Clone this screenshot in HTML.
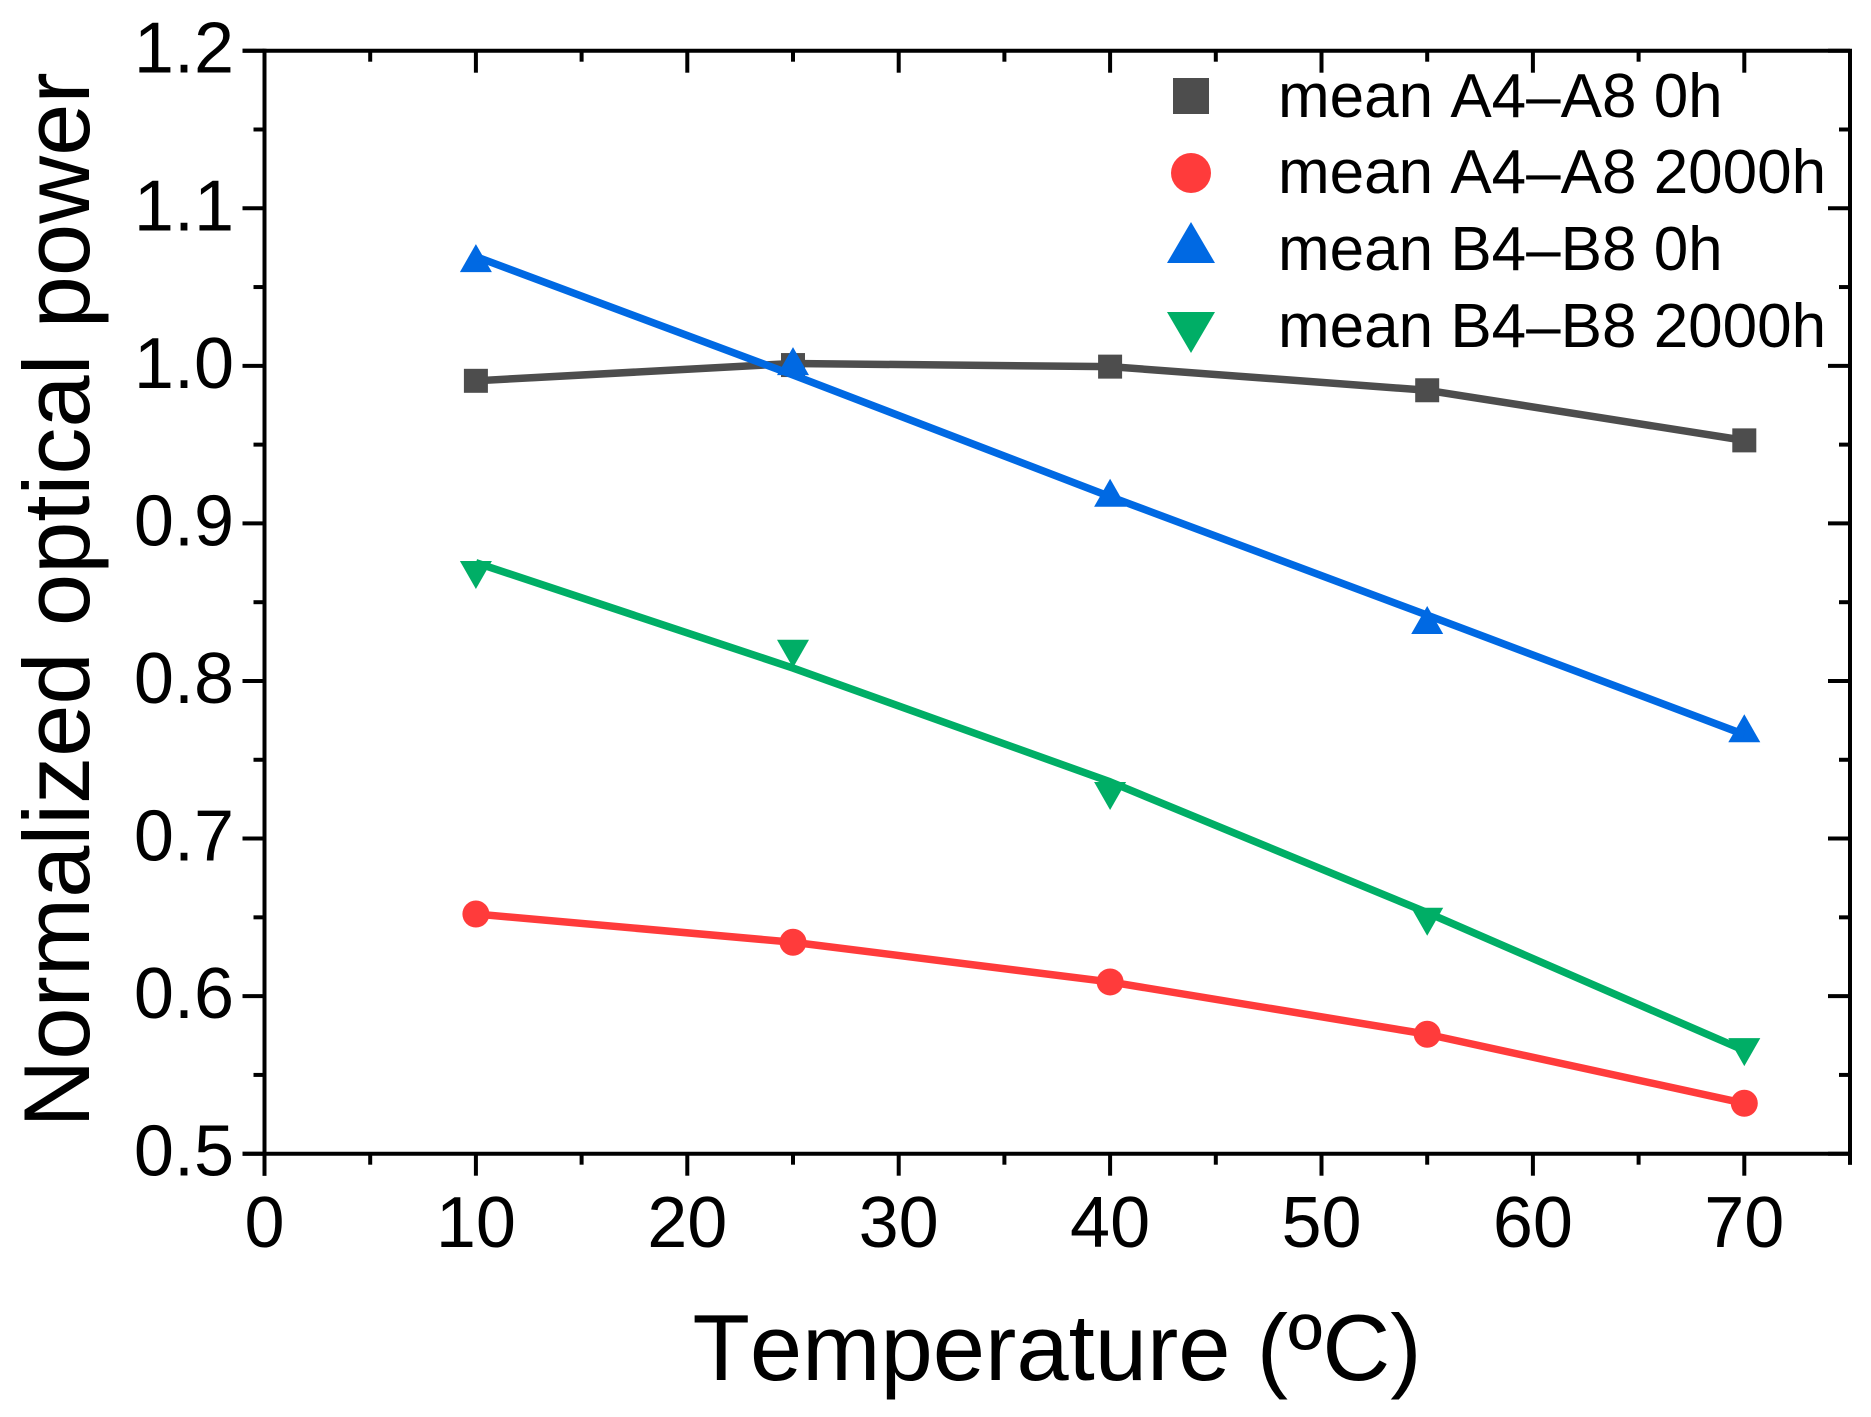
<!DOCTYPE html>
<html lang="en">
<head>
<meta charset="utf-8">
<title>Normalized optical power vs temperature</title>
<style>
  html, body { margin: 0; padding: 0; background: #fff; }
  svg { display: block; font-family: "Liberation Sans", Arial, sans-serif; font-kerning: none; }
</style>
</head>
<body>
<svg id="chart" xmlns="http://www.w3.org/2000/svg" width="1871" height="1417" viewBox="0 0 1871 1417">
  <rect x="0" y="0" width="1871" height="1417" fill="#ffffff"/>
  <g id="axes"></g>
  <g id="series"></g>
  <text x="1057" y="1380" font-size="94" text-anchor="middle" fill="#000">Temperature (ºC)</text>
  <text transform="translate(89 600) rotate(-90)" font-size="94" text-anchor="middle" fill="#000">Normalized optical power</text>
  <g font-size="62" fill="#000">
    <g>
      <rect x="1173" y="78" width="36" height="36" fill="#4d4d4d"/>
      <text x="1278" y="117">mean A4–A8 0h</text>
    </g>
    <g>
      <circle cx="1191" cy="173" r="20" fill="#ff3b3b"/>
      <text x="1278" y="193">mean A4–A8 2000h</text>
    </g>
    <g>
      <polygon points="1191,222 1215,263 1167,263" fill="#0069e3"/>
      <text x="1278" y="270">mean B4–B8 0h</text>
    </g>
    <g>
      <polygon points="1167,312 1215,312 1191,353" fill="#00ae66"/>
      <text x="1278" y="347">mean B4–B8 2000h</text>
    </g>
  </g>
</svg>
<script>
const temperatures = [10, 25, 40, 55, 70];
const xTickLabels = ["0", "10", "20", "30", "40", "50", "60", "70"];
const yTickLabels = ["0.5", "0.6", "0.7", "0.8", "0.9", "1.0", "1.1", "1.2"];
const a0hLine = [0.9905, 1.0015, 0.9995, 0.9845, 0.9527];
const a0hPoints = [0.9905, 1.0005, 0.9995, 0.9845, 0.9527];
const a2000hLine = [0.6521, 0.6342, 0.609, 0.5758, 0.532];
const a2000hPoints = [0.6521, 0.6342, 0.609, 0.5758, 0.532];
const b0hLine = [1.0693, 0.9942, 0.917, 0.8418, 0.766];
const b0hPoints = [1.0684, 1.003, 0.9195, 0.8387, 0.77];
const b2000hLine = [0.8751, 0.8082, 0.736, 0.653, 0.5655];
const b2000hPoints = [0.8673, 0.8173, 0.727, 0.6472, 0.5645];

const NS = "http://www.w3.org/2000/svg";
const xMin = 0, xMax = 75, yMin = 0.5, yMax = 1.2;
const plot = { left: 264.5, right: 1850, top: 50.7, bottom: 1153.7 };
const xPos = v => plot.left + (v - xMin) / (xMax - xMin) * (plot.right - plot.left);
const yPos = v => plot.bottom - (v - yMin) / (yMax - yMin) * (plot.bottom - plot.top);

function make(tag, attrs, parent) {
  const el = document.createElementNS(NS, tag);
  for (const k in attrs) el.setAttribute(k, attrs[k]);
  parent.appendChild(el);
  return el;
}

const axes = document.getElementById("axes");
const seriesGroup = document.getElementById("series");
const axisStyle = { stroke: "#000", "stroke-width": 4, "stroke-linecap": "butt" };

function axisLine(name, x1, y1, x2, y2) {
  const el = make("line", Object.assign({ x1, y1, x2, y2 }, axisStyle), axes);
  
  
}
axisLine("axis-left", plot.left, plot.top - 2, plot.left, plot.bottom + 22);
axisLine("axis-bottom", plot.left - 22, plot.bottom, plot.right + 2, plot.bottom);
axisLine("axis-top", plot.left - 22, plot.top, plot.right + 2, plot.top);
axisLine("axis-right", plot.right, plot.top, plot.right, plot.bottom + 11);

function tickLine(name, x1, y1, x2, y2) {
  const el = make("line", Object.assign({ x1, y1, x2, y2 }, axisStyle), axes);
  
  
}

xTickLabels.forEach(label => {
  const v = Number(label);
  const x = xPos(v);
  tickLine("x-tick-major", x, plot.bottom, x, plot.bottom + 22);
  tickLine("x-tick-major-top", x, plot.top, x, plot.top + 22);
  tickLine("x-tick-minor", x + xPos(5) - xPos(0), plot.bottom, x + xPos(5) - xPos(0), plot.bottom + 11);
  tickLine("x-tick-minor-top", x + xPos(5) - xPos(0), plot.top, x + xPos(5) - xPos(0), plot.top + 11);
  const t = make("text", { x: x, y: 1247, "font-size": 72, "text-anchor": "middle", fill: "#000" }, axes);
  
  
  t.textContent = label;
});

yTickLabels.forEach((label, i) => {
  const v = Number(label);
  const y = yPos(v);
  tickLine("y-tick-major", plot.left - 22, y, plot.left, y);
  tickLine("y-tick-major-right", plot.right - 22, y, plot.right, y);
  if (i < yTickLabels.length - 1) {
    const ym = yPos(v + 0.05);
    tickLine("y-tick-minor", plot.left - 11, ym, plot.left, ym);
    tickLine("y-tick-minor-right", plot.right - 11, ym, plot.right, ym);
  }
  const t = make("text", { x: 234, y: y + 22, "font-size": 72, "text-anchor": "end", fill: "#000" }, axes);
  
  
  t.textContent = label;
});

function drawLine(name, values, color) {
  const pts = temperatures.map((t, i) => xPos(t).toFixed(2) + "," + yPos(values[i]).toFixed(2)).join(" ");
  const el = make("polyline", { points: pts, fill: "none", stroke: color, "stroke-width": 7.5, "stroke-linejoin": "round" }, seriesGroup);
  
  
}

function drawMarker(shape, name, tVal, vVal, color) {
  const cx = xPos(tVal), cy = yPos(vVal);
  let el;
  if (shape === "square") {
    el = make("rect", { x: cx - 12, y: cy - 12, width: 24, height: 24, fill: color }, seriesGroup);
  } else if (shape === "circle") {
    el = make("circle", { cx, cy, r: 13.5, fill: color }, seriesGroup);
  } else if (shape === "up") {
    el = make("polygon", { points: `${cx},${cy - 14} ${cx + 16},${cy + 14} ${cx - 16},${cy + 14}`, fill: color }, seriesGroup);
  } else {
    el = make("polygon", { points: `${cx - 16},${cy - 14} ${cx + 16},${cy - 14} ${cx},${cy + 14}`, fill: color }, seriesGroup);
  }
  
  
}

drawLine("line-a-0h", a0hLine, "#4d4d4d");
temperatures.forEach((t, i) => drawMarker("square", "point-a-0h", t, a0hPoints[i], "#4d4d4d"));
drawLine("line-a-2000h", a2000hLine, "#ff3b3b");
temperatures.forEach((t, i) => drawMarker("circle", "point-a-2000h", t, a2000hPoints[i], "#ff3b3b"));
temperatures.forEach((t, i) => drawMarker("up", "point-b-0h", t, b0hPoints[i], "#0069e3"));
drawLine("line-b-0h", b0hLine, "#0069e3");
drawLine("line-b-2000h", b2000hLine, "#00ae66");
temperatures.forEach((t, i) => drawMarker("down", "point-b-2000h", t, b2000hPoints[i], "#00ae66"));
</script>
</body>
</html>
